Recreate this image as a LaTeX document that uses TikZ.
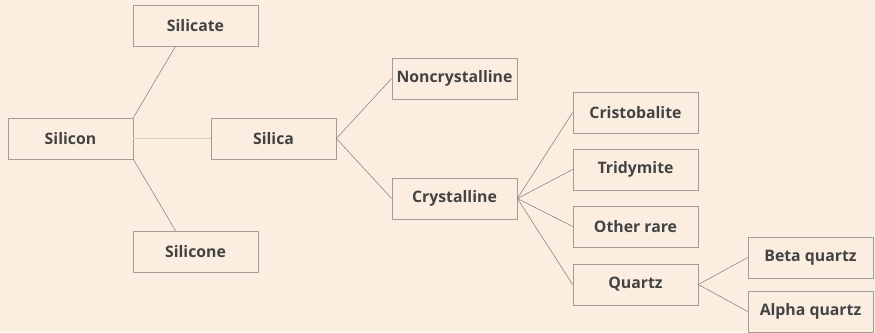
\documentclass[tikz,border=0pt]{standalone}
\usepackage{fontspec}
\setmainfont{Open Sans}
\usepackage{tikz}

\definecolor{bgpeach}{HTML}{FCEDE1}
\definecolor{boxline}{HTML}{A39B94}
\definecolor{linkline}{HTML}{8C8580}
\definecolor{softline}{HTML}{DCCBC0}
\definecolor{txtgray}{HTML}{434343}

\tikzset{
	item/.style={draw=boxline, line width=0.6pt, fill=bgpeach,
		minimum width=3.75cm, minimum height=1.23cm, inner sep=0pt,
		text=txtgray, font=\fontsize{13.5}{15}\selectfont\bfseries},
	link/.style={draw=linkline, line width=0.5pt}
}

\begin{document}
\begin{tikzpicture}[x=0.03cm, y=-0.03cm]
		\fill[bgpeach] (0,0) rectangle (875,332);
		\useasboundingbox (0,0) rectangle (875,332);
		% first level
		\node[item] (silicon) at (70.5,138.5) {Silicon};
		\node[item] (silicate) at (195.5,25.5) {Silicate};
		\node[item] (silica) at (273.5,138.5) {Silica};
		\node[item] (silicone) at (195.5,251.5) {Silicone};
		% silica branches
		\node[item] (noncryst) at (454.5,78.5) {Noncrystalline};
		\node[item] (cryst) at (454.5,198.5) {Crystalline};
		% crystalline branches
		\node[item] (cristo) at (635.5,112.5) {Cristobalite};
		\node[item] (tridy) at (635.5,169.5) {Tridymite};
		\node[item] (rare) at (635.5,226.5) {Other rare};
		\node[item] (quartz) at (635.5,284.5) {Quartz};
		% quartz branches
		\node[item] (beta) at (810.5,257.5) {Beta quartz};
		\node[item] (alpha) at (810.5,311.5) {Alpha quartz};

		\draw[link] (silicon.north east) -- ([xshift=-0.6cm]silicate.south);
		\draw[link] (silicon.south east) -- ([xshift=-0.6cm]silicone.north);
		\draw[softline, line width=0.5pt] (silicon.east) -- (silica.west);
		\foreach \t in {noncryst,cryst}
			\draw[link] (silica.east) -- (\t.west);
		\foreach \t in {cristo,tridy,rare,quartz}
			\draw[link] (cryst.east) -- (\t.west);
		\foreach \t in {beta,alpha}
			\draw[link] (quartz.east) -- (\t.west);
\end{tikzpicture}
\end{document}
